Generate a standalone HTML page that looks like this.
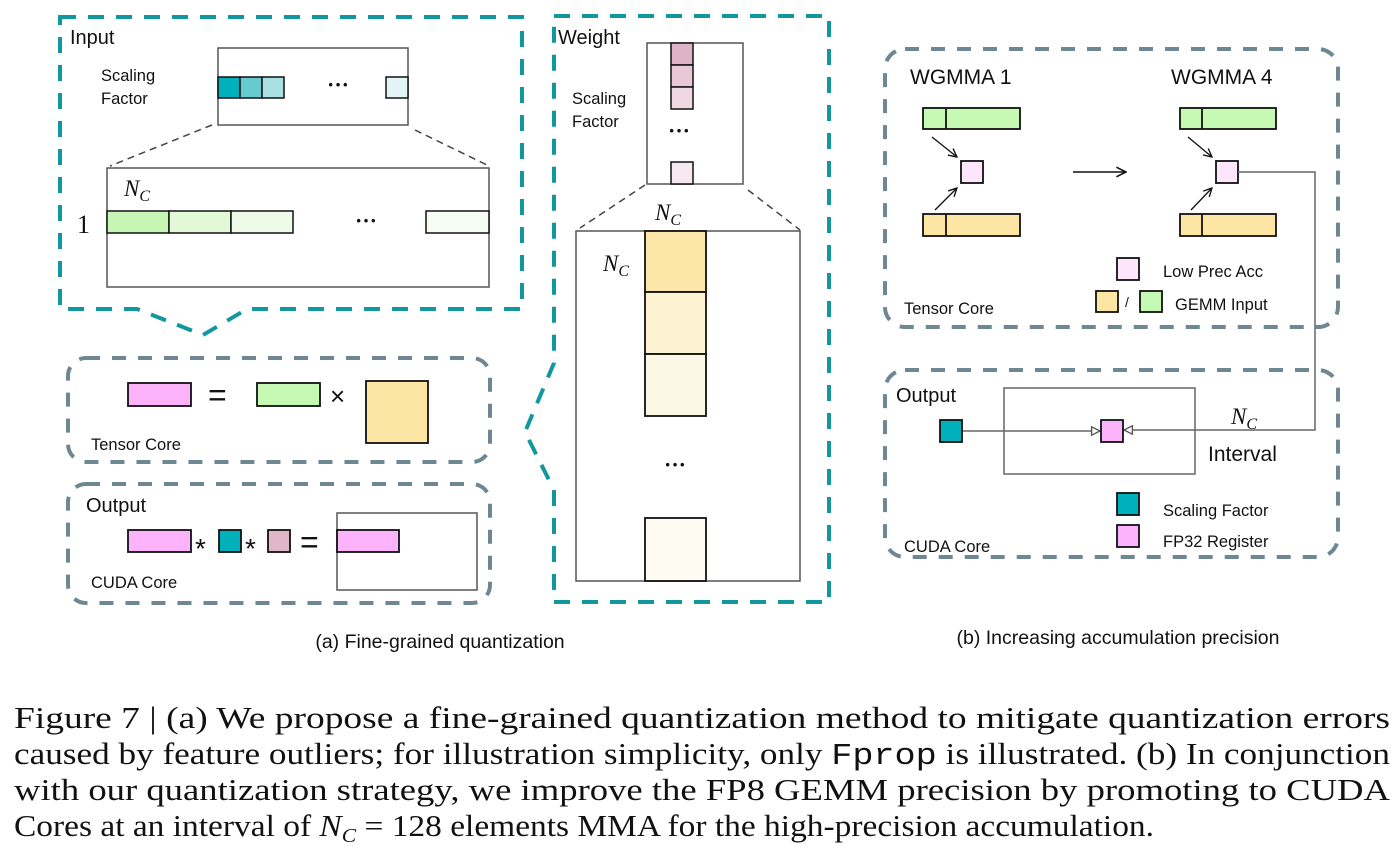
<!DOCTYPE html>
<html><head><meta charset="utf-8"><style>
html,body{margin:0;padding:0;background:#fff;}
svg{display:block;}
text{font-family:"Liberation Sans",sans-serif;fill:#111;}
.serif{font-family:"Liberation Serif",serif;}
.dots{font-family:"Liberation Serif",serif;font-size:22px;font-weight:bold;}
</style></head><body>
<svg width="1400" height="865" viewBox="0 0 1400 865" xmlns="http://www.w3.org/2000/svg">
<defs>
<marker id="oa" viewBox="0 0 10 10" refX="9" refY="5" markerWidth="8" markerHeight="8" orient="auto"><path d="M1,1 L9,5 L1,9" fill="none" stroke="#111" stroke-width="1.3"/></marker>
<marker id="ta" viewBox="0 0 10 10" refX="9" refY="5" markerWidth="7" markerHeight="7" orient="auto"><path d="M1,1 L9,5 L1,9 Z" fill="#fff" stroke="#555" stroke-width="1.3"/></marker>
</defs>

<path d="M60,17 H522 V309 H247 L203,335 L137,309 H60 Z" fill="none" stroke="#11979e" stroke-width="4" stroke-dasharray="16,12"/>
<text x="70" y="44" font-size="20">Input</text>
<text x="101" y="81" font-size="16.5">Scaling</text>
<text x="101" y="104" font-size="16.5">Factor</text>
<rect x="218" y="48" width="190" height="77" fill="#fff" stroke="#555" stroke-width="1.5"/>
<rect x="218" y="77" width="22" height="21" fill="#00b0ba" stroke="#111" stroke-width="1.5"/>
<rect x="240" y="77" width="22" height="21" fill="#66cad0" stroke="#111" stroke-width="1.5"/>
<rect x="262" y="77" width="22" height="21" fill="#a8e0e4" stroke="#111" stroke-width="1.5"/>
<rect x="386" y="77" width="22" height="21" fill="#e2f4f5" stroke="#111" stroke-width="1.5"/>
<text x="327" y="92" class="dots">···</text>
<line x1="212" y1="125" x2="110" y2="166" stroke="#444" stroke-width="1.5" stroke-dasharray="7,5"/>
<line x1="415" y1="130" x2="487" y2="165" stroke="#444" stroke-width="1.5" stroke-dasharray="7,5"/>
<rect x="107" y="168" width="382" height="119" fill="#fff" stroke="#555" stroke-width="1.5"/>
<rect x="107" y="211" width="62" height="22" fill="#c6f5b4" stroke="#111" stroke-width="1.5"/>
<rect x="169" y="211" width="62" height="22" fill="#e2f9d8" stroke="#111" stroke-width="1.5"/>
<rect x="231" y="211" width="62" height="22" fill="#eefbe8" stroke="#111" stroke-width="1.5"/>
<rect x="426" y="211" width="63" height="22" fill="#f6fdf3" stroke="#111" stroke-width="1.5"/>
<text x="355" y="228" class="dots">···</text>
<text x="124" y="196" font-size="23" font-style="italic" class="serif">N<tspan font-size="16" dy="5">C</tspan></text>
<text x="77" y="233" font-size="26" class="serif">1</text>

<path d="M554,16 H829 V602 H554 V490 L525,432 L554,363 Z" fill="none" stroke="#11979e" stroke-width="4" stroke-dasharray="16,12"/>
<text x="558" y="44" font-size="20">Weight</text>
<text x="572" y="104" font-size="16.5">Scaling</text>
<text x="572" y="127" font-size="16.5">Factor</text>
<rect x="647" y="43" width="96" height="141" fill="#fff" stroke="#555" stroke-width="1.5"/>
<rect x="671" y="43" width="22" height="22" fill="#deb3c8" stroke="#111" stroke-width="1.5"/>
<rect x="671" y="65" width="22" height="22" fill="#e8c7d6" stroke="#111" stroke-width="1.5"/>
<rect x="671" y="87" width="22" height="22" fill="#f0d8e3" stroke="#111" stroke-width="1.5"/>
<rect x="671" y="162" width="22" height="22" fill="#f6e8ee" stroke="#111" stroke-width="1.5"/>
<text x="668" y="138" class="dots">···</text>
<line x1="645" y1="185" x2="580" y2="228" stroke="#444" stroke-width="1.5" stroke-dasharray="7,5"/>
<line x1="748" y1="190" x2="800" y2="230" stroke="#444" stroke-width="1.5" stroke-dasharray="7,5"/>
<rect x="576" y="231" width="224" height="350" fill="#fff" stroke="#555" stroke-width="1.5"/>
<rect x="645" y="231" width="61" height="61" fill="#fde7a8" stroke="#111" stroke-width="1.8"/>
<rect x="645" y="292" width="61" height="62" fill="#fdf2d2" stroke="#111" stroke-width="1.8"/>
<rect x="645" y="354" width="61" height="62" fill="#fdf7e6" stroke="#111" stroke-width="1.8"/>
<rect x="645" y="518" width="61" height="63" fill="#fefbf2" stroke="#111" stroke-width="1.8"/>
<text x="664" y="472" class="dots">···</text>
<text x="655" y="220" font-size="23" font-style="italic" class="serif">N<tspan font-size="16" dy="5">C</tspan></text>
<text x="603" y="271" font-size="23" font-style="italic" class="serif">N<tspan font-size="16" dy="5">C</tspan></text>

<rect x="68" y="358" width="422" height="104" rx="18" fill="none" stroke="#6e8792" stroke-width="4" stroke-dasharray="14,12"/>
<rect x="128" y="383" width="63" height="23" fill="#fdb3fb" stroke="#111" stroke-width="1.8"/>
<text x="208" y="406" font-size="32">=</text>
<rect x="257" y="383" width="63" height="23" fill="#c6f9b4" stroke="#111" stroke-width="1.8"/>
<text x="330" y="405" font-size="26">×</text>
<rect x="366" y="381" width="62" height="62" fill="#fde6a3" stroke="#111" stroke-width="1.8"/>
<text x="91" y="450" font-size="16.5">Tensor Core</text>

<rect x="68" y="484" width="422" height="119" rx="18" fill="none" stroke="#6e8792" stroke-width="4" stroke-dasharray="14,12"/>
<text x="86" y="512" font-size="20">Output</text>
<rect x="128" y="530" width="63" height="22" fill="#fdb3fb" stroke="#111" stroke-width="1.8"/>
<text x="195" y="558" font-size="28">*</text>
<rect x="219" y="530" width="22" height="22" fill="#00b0ba" stroke="#111" stroke-width="1.8"/>
<text x="245" y="558" font-size="28">*</text>
<rect x="268" y="530" width="22" height="22" fill="#e0b6c8" stroke="#111" stroke-width="1.8"/>
<text x="300" y="553" font-size="32">=</text>
<rect x="337" y="513" width="140" height="77" fill="#fff" stroke="#555" stroke-width="1.5"/>
<rect x="337" y="530" width="62" height="22" fill="#fdb3fb" stroke="#111" stroke-width="1.8"/>
<text x="91" y="588" font-size="16.5">CUDA Core</text>

<text x="440" y="648" font-size="19.5" text-anchor="middle">(a) Fine-grained quantization</text>

<rect x="885" y="49" width="453" height="278" rx="20" fill="none" stroke="#6e8792" stroke-width="4" stroke-dasharray="14,12"/>
<text x="910" y="84" font-size="21">WGMMA 1</text>
<text x="1171" y="84" font-size="21">WGMMA 4</text>
<rect x="923" y="108" width="97" height="21" fill="#c6f9b4" stroke="#111" stroke-width="1.8"/>
<line x1="946" y1="108" x2="946" y2="129" stroke="#111" stroke-width="1.8"/>
<rect x="923" y="214" width="97" height="22" fill="#fde6a3" stroke="#111" stroke-width="1.8"/>
<line x1="946" y1="214" x2="946" y2="236" stroke="#111" stroke-width="1.8"/>
<rect x="961" y="161" width="22" height="22" fill="#fde6fb" stroke="#111" stroke-width="1.8"/>
<line x1="932" y1="137" x2="957" y2="157" stroke="#111" stroke-width="1.3" marker-end="url(#oa)"/>
<line x1="935" y1="210" x2="957" y2="188" stroke="#111" stroke-width="1.3" marker-end="url(#oa)"/>
<line x1="1073" y1="172" x2="1126" y2="172" stroke="#111" stroke-width="1.5" marker-end="url(#oa)"/>
<rect x="1180" y="108" width="96" height="21" fill="#c6f9b4" stroke="#111" stroke-width="1.8"/>
<line x1="1202" y1="108" x2="1202" y2="129" stroke="#111" stroke-width="1.8"/>
<rect x="1180" y="214" width="96" height="22" fill="#fde6a3" stroke="#111" stroke-width="1.8"/>
<line x1="1202" y1="214" x2="1202" y2="236" stroke="#111" stroke-width="1.8"/>
<rect x="1216" y="161" width="22" height="22" fill="#fde6fb" stroke="#111" stroke-width="1.8"/>
<line x1="1188" y1="137" x2="1212" y2="157" stroke="#111" stroke-width="1.3" marker-end="url(#oa)"/>
<line x1="1191" y1="210" x2="1212" y2="188" stroke="#111" stroke-width="1.3" marker-end="url(#oa)"/>
<rect x="1117" y="258" width="22" height="22" fill="#fde6fb" stroke="#111" stroke-width="1.8"/>
<text x="1163" y="277" font-size="16.5">Low Prec Acc</text>
<rect x="1096" y="291" width="22" height="21" fill="#fde6a3" stroke="#111" stroke-width="1.8"/>
<text x="1125" y="307" font-size="14">/</text>
<rect x="1140" y="291" width="22" height="21" fill="#c6f9b4" stroke="#111" stroke-width="1.8"/>
<text x="1175" y="310" font-size="16.5">GEMM Input</text>
<text x="904" y="314" font-size="16.5">Tensor Core</text>

<rect x="885" y="370" width="453" height="187" rx="20" fill="none" stroke="#6e8792" stroke-width="4" stroke-dasharray="14,12"/>
<text x="896" y="402" font-size="20">Output</text>
<rect x="1004" y="388" width="191" height="86" fill="none" stroke="#666" stroke-width="1.5"/>
<polyline points="1238,172 1315,172 1315,430 1124,430" fill="none" stroke="#666" stroke-width="1.5" marker-end="url(#ta)"/>
<line x1="962" y1="431" x2="1100" y2="431" stroke="#666" stroke-width="1.5" marker-end="url(#ta)"/>
<rect x="940" y="420" width="22" height="22" fill="#00b0ba" stroke="#111" stroke-width="1.8"/>
<rect x="1101" y="420" width="22" height="22" fill="#fdb3fb" stroke="#111" stroke-width="1.8"/>
<text x="1231" y="424" font-size="23" font-style="italic" class="serif">N<tspan font-size="16" dy="5">C</tspan></text>
<text x="1208" y="461" font-size="21">Interval</text>
<rect x="1117" y="493" width="22" height="22" fill="#00b0ba" stroke="#111" stroke-width="1.8"/>
<text x="1163" y="516" font-size="16.5">Scaling Factor</text>
<rect x="1117" y="525" width="22" height="22" fill="#fdb3fb" stroke="#111" stroke-width="1.8"/>
<text x="1163" y="547" font-size="16.5">FP32 Register</text>
<text x="904" y="552" font-size="16.5">CUDA Core</text>

<text x="1118" y="644" font-size="19.5" text-anchor="middle">(b) Increasing accumulation precision</text>

<g class="serif" font-size="31">
<text class="serif" x="14" y="728" textLength="1376" lengthAdjust="spacingAndGlyphs">Figure 7 | (a) We propose a fine-grained quantization method to mitigate quantization errors</text>
<text class="serif" x="14" y="764" textLength="1376" lengthAdjust="spacingAndGlyphs">caused by feature outliers; for illustration simplicity, only <tspan font-family="Liberation Mono, monospace">Fprop</tspan> is illustrated. (b) In conjunction</text>
<text class="serif" x="14" y="800" textLength="1376" lengthAdjust="spacingAndGlyphs">with our quantization strategy, we improve the FP8 GEMM precision by promoting to CUDA</text>
<text class="serif" x="14" y="836" textLength="1140" lengthAdjust="spacingAndGlyphs">Cores at an interval of <tspan font-style="italic">N</tspan><tspan font-size="20" font-style="italic" dy="6">C</tspan><tspan dy="-6"> = 128 elements MMA for the high-precision accumulation.</tspan></text>
</g>
</svg>
</body></html>
